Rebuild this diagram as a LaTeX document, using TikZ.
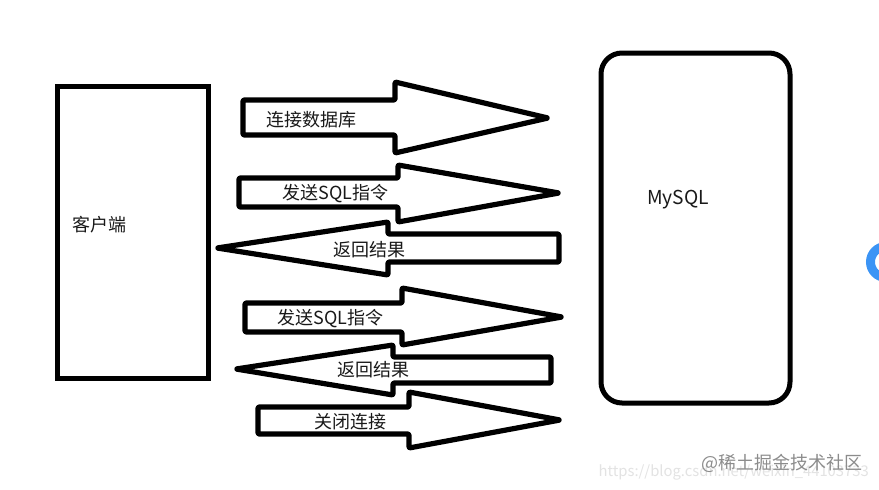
\documentclass[tikz,border=0pt]{standalone}
\usepackage{fontspec}
\setmainfont{Noto Sans CJK SC}
\definecolor{badgeblue}{HTML}{3B94F5}
\tikzset{
  x=1pt,y=-1pt,
  outline/.style={draw=black,line width=5pt,line join=round,fill=white},
  softoutline/.style={draw=black,line width=5.2pt,rounded corners=1pt,line join=round},
  lbl/.style={font=\fontsize{18}{20}\selectfont,inner sep=0pt,text=black!90},
  lblwide/.style={font=\fontsize{19.2}{20}\selectfont,inner sep=0pt,text=black!90},
  wm/.style={font=\fontsize{18}{20}\selectfont,inner sep=0pt,text=black!45},
  wmb/.style={font=\fontsize{14.8}{16}\selectfont,inner sep=0pt,text=black!11}
}
\begin{document}
\begin{tikzpicture}
\useasboundingbox (0,0) rectangle (879,490);
\fill[white] (0,0) rectangle (879,490);
% client and server
\draw[outline,line join=miter] (57,86) rectangle (208,378);
\draw[outline,rounded corners=21pt] (601,53) rectangle (790,403);
% arrows
\draw[softoutline] (243,100) -- (395,100) -- (395,82) -- (548,118) -- (395,153) -- (395,135) -- (243,135) -- cycle;
\draw[softoutline] (239,178) -- (398,178) -- (398,165) -- (559,193) -- (398,222) -- (398,207) -- (239,207) -- cycle;
\draw[softoutline] (559,234) -- (388,234) -- (388,222) -- (217,248) -- (388,275) -- (388,262) -- (559,262) -- cycle;
\draw[softoutline] (245,303) -- (402,303) -- (402,288) -- (562,317) -- (402,345) -- (402,332) -- (245,332) -- cycle;
\draw[softoutline] (551,357) -- (393,357) -- (393,345) -- (236,369) -- (393,395) -- (393,383) -- (551,383) -- cycle;
\draw[softoutline] (258,407) -- (409,407) -- (409,392) -- (560,420) -- (409,448) -- (409,434) -- (258,434) -- cycle;
% labels
\node[lbl] (client) at (99,224.5) {客户端};
\node[lblwide] (server) at (678,200) {MySQL};
\node[lbl] (a) at (311,119.5) {连接数据库};
\node[lbl] (b) at (335.5,194) {发送SQL指令};
\node[lbl] (c) at (369,249.5) {返回结果};
\node[lbl] (d) at (330.5,319) {发送SQL指令};
\node[lbl] (e) at (373,369.5) {返回结果};
\node[lbl] (f) at (350,421.5) {关闭连接};
% badge at the right edge
\begin{scope}
\clip (0,0) rectangle (879,490);
\draw[badgeblue,line width=9pt] (886,262) circle[radius=15.5pt];
\end{scope}
% watermarks
\node[wmb,anchor=east] (w1) at (869,472) {https://blog.csdn.net/weixin\_44103733};
\node[wm,anchor=east] (w2) at (863,463) {@稀土掘金技术社区};
\end{tikzpicture}
\end{document}
